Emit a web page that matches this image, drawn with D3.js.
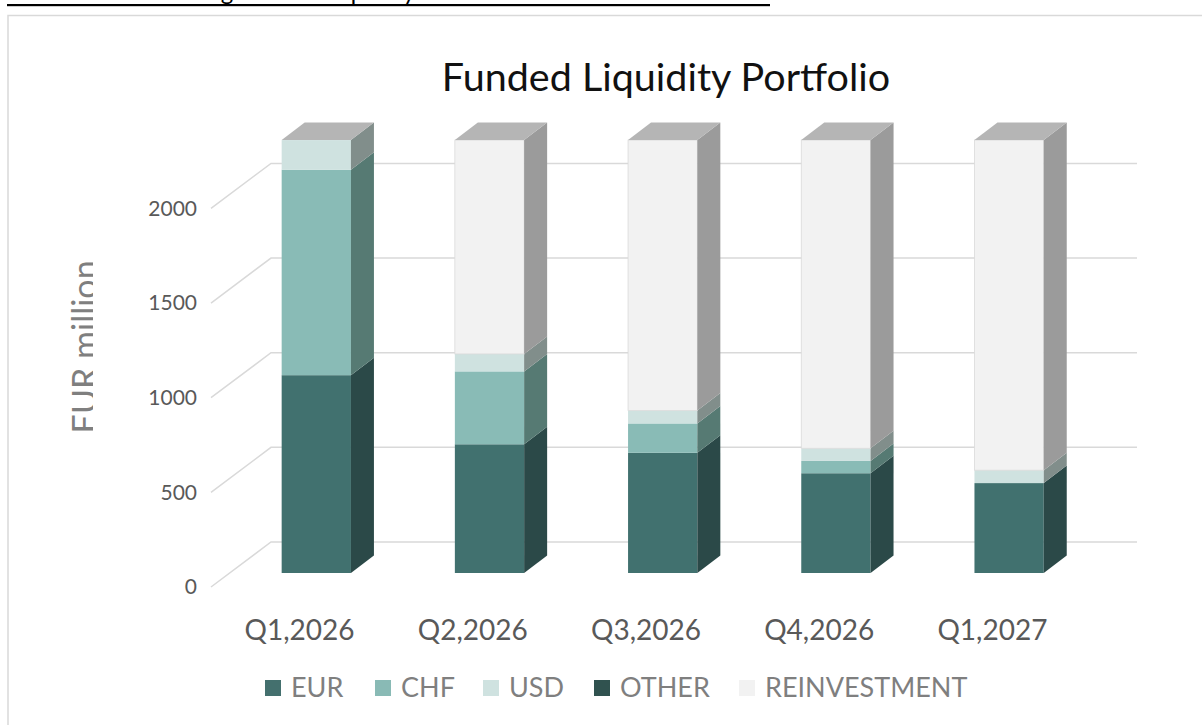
<!DOCTYPE html>
<html><head><meta charset="utf-8">
<script src="https://cdn.jsdelivr.net/npm/d3@7"></script>
<style>
html,body{margin:0;padding:0;background:#fff;overflow:hidden}
svg{display:block}
</style></head>
<body><svg id="c" width="1202" height="725"></svg>
<script>
const categories = ["Q1,2026","Q2,2026","Q3,2026","Q4,2026","Q1,2027"];
const seriesNames = ["EUR","CHF","USD","OTHER","REINVESTMENT"];
const EUR = [1045, 680, 635, 527, 475];
const CHF = [1085, 385, 155, 65, 0];
const USD = [157, 92, 68, 67, 68];
const OTHER = [0, 0, 0, 0, 0];
const REINVESTMENT = [0, 1130, 1429, 1628, 1744];
const yTicks = [0, 500, 1000, 1500, 2000];
const chartTitle = "Funded Liquidity Portfolio";
const yTitle = "EUR million";
const headerText = "Chart 10: Forecasting Funded Liquidity Portfolio Investments";

const frontColors = {EUR:"#41716f", CHF:"#89bbb6", USD:"#cfe2e0", OTHER:"#2f5553", REINVESTMENT:"#f2f2f2"};
const sideColors  = {EUR:"#2b4948", CHF:"#567a73", USD:"#818e8b", OTHER:"#1f3837", REINVESTMENT:"#9b9b9b"};
const capColor = "#b5b5b5";
const legendColors = {EUR:"#44706e", CHF:"#89bab5", USD:"#cfe2e0", OTHER:"#30524f", REINVESTMENT:"#f2f2f2"};

const seriesData = {EUR, CHF, USD, OTHER, REINVESTMENT};
const rows = categories.map((c,i)=>{ const r={cat:c}; seriesNames.forEach(s=>r[s]=seriesData[s][i]); return r; });
const stacked = d3.stack().keys(seriesNames)(rows);

const svg = d3.select("#c");
const font = "Lato, 'Open Sans', sans-serif";

// header (cut off at top, as in the source page)
svg.append("text").attr("x", 7).attr("y", 0).attr("font-family", font).attr("font-size", 24)
  .attr("fill", "#000").text(headerText);
svg.append("rect").attr("x", 7).attr("y", 4).attr("width", 763).attr("height", 2.2).attr("fill", "#000");

// chart border
svg.append("rect").attr("x", 8).attr("y", 15.5).attr("width", 1300).attr("height", 800)
  .attr("fill", "none").attr("stroke", "#d9d9d9").attr("stroke-width", 1.5);

// geometry
const wallDX = 60, wallDY = -45;
const barOffX = 18.7, barOffY = -14;
const depthDX = 23, depthDY = -17.5;

const x = d3.scaleBand().domain(categories).range([211, 1077]).paddingInner(0.6).paddingOuter(0.3);
const y = d3.scaleLinear().domain([0, 2000]).range([587, 208.4]);

// gridlines: diagonal on side + back wall
const grid = svg.append("g").attr("stroke", "#d9d9d9").attr("stroke-width", 1.5).attr("fill", "none");
yTicks.forEach(t=>{
  const yy = y(t);
  grid.append("path").attr("d", `M${x.range()[0]},${yy} L${x.range()[0]+wallDX},${yy+wallDY} L${x.range()[1]+wallDX},${yy+wallDY}`);
});

// y tick labels
svg.append("g").selectAll("text").data(yTicks).join("text")
  .attr("x", 197).attr("y", d=>y(d)).attr("dy", "0.35em").attr("text-anchor", "end")
  .attr("font-family", font).attr("font-size", 21).attr("fill", "#595959").text(d=>d);

// y title, clipped near its baseline
svg.append("clipPath").attr("id", "yclip").append("rect").attr("x", 0).attr("y", 0).attr("width", 93).attr("height", 725);
svg.append("g").attr("clip-path", "url(#yclip)").append("text")
  .attr("transform", "translate(97,347) rotate(-90)").attr("text-anchor", "middle")
  .attr("font-family", font).attr("font-size", 34).attr("fill", "#7f7f7f").text(yTitle);

// bars
const bars = svg.append("g");
categories.forEach((cat, i)=>{
  const xl = x(cat) + barOffX, xr = xl + x.bandwidth();
  const g = bars.append("g");
  stacked.forEach(layer=>{
    const s = layer.key;
    const [v0, v1] = layer[i];
    if (v1 - v0 <= 0) return;
    const yb = y(v0) + barOffY, yt = y(v1) + barOffY;
    g.append("rect").attr("x", xl).attr("y", yt).attr("width", xr - xl).attr("height", yb - yt)
      .attr("fill", frontColors[s])
      .attr("stroke", s === "REINVESTMENT" ? "#dadada" : "none").attr("stroke-width", 0.8);
    g.append("path").attr("d", `M${xr},${yb} L${xr},${yt} L${xr+depthDX},${yt+depthDY} L${xr+depthDX},${yb+depthDY} Z`)
      .attr("fill", sideColors[s]);
  });
  const total = stacked[stacked.length-1][i][1];
  const yt = y(total) + barOffY;
  g.append("path").attr("d", `M${xl},${yt} L${xr},${yt} L${xr+depthDX},${yt+depthDY} L${xl+depthDX},${yt+depthDY} Z`)
    .attr("fill", capColor);
});

// category labels
svg.append("g").selectAll("text").data(categories).join("text")
  .attr("x", d=>x(d) + x.bandwidth()/2 + 2).attr("y", 630).attr("dy", "0.35em").attr("text-anchor", "middle")
  .attr("font-family", font).attr("font-size", 28).attr("fill", "#595959").text(d=>d);

// title
svg.append("text").attr("x", 666).attr("y", 77).attr("dy", "0.35em").attr("text-anchor", "middle")
  .attr("font-family", font).attr("font-size", 39.5).attr("fill", "#111").text(chartTitle);

// legend
const legendX = [265, 375, 483, 594, 739];
const lg = svg.append("g").selectAll("g").data(seriesNames).join("g")
  .attr("transform", (d,i)=>`translate(${legendX[i]},688)`);
lg.append("rect").attr("x", 0).attr("y", -8).attr("width", 16).attr("height", 16).attr("fill", d=>legendColors[d]);
lg.append("text").attr("x", 26).attr("y", 0).attr("dy", "0.35em").attr("font-family", font)
  .attr("font-size", 27).attr("fill", "#7f7f7f").text(d=>d);
</script></body></html>
